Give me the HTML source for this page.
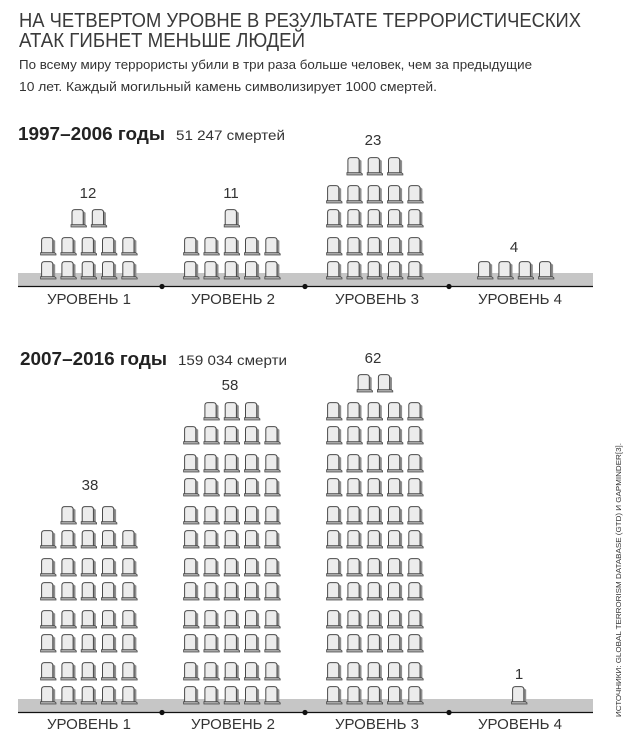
<!DOCTYPE html>
<html>
<head>
<meta charset="utf-8">
<style>
html,body{margin:0;padding:0;background:#fff;}
svg{display:block;}
text{font-family:"Liberation Sans","Noto Sans CJK SC",sans-serif;}
</style>
</head>
<body>
<svg width="632" height="743" viewBox="0 0 632 743" xmlns="http://www.w3.org/2000/svg">
<defs>
  <g id="t">
    <path d="M11.8,2 L14.2,3.8 L14.2,16 L11.8,16 Z" fill="#8e8e8e"/>
    <path d="M0.6,16 V3.4 Q0.6,0.6 3.4,0.6 H9 Q11.8,0.6 11.8,3.4 V16 Z" fill="#ececec" stroke="#4a4a4a" stroke-width="1"/>
    <path d="M-0.4,15.6 H13.4 L15,16.8 V18 H-0.4 Z" fill="#a8a8a8" stroke="#4a4a4a" stroke-width="0.8"/>
  </g>
  <g id="r5">
    <use href="#t" x="0" y="0"/>
    <use href="#t" x="20.3" y="0"/>
    <use href="#t" x="40.6" y="0"/>
    <use href="#t" x="60.9" y="0"/>
    <use href="#t" x="81.2" y="0"/>
  </g>
</defs>

<!-- Title -->
<text x="19" y="27" font-size="20" fill="#3a3a3a" textLength="562" lengthAdjust="spacingAndGlyphs">НА ЧЕТВЕРТОМ УРОВНЕ В РЕЗУЛЬТАТЕ ТЕРРОРИСТИЧЕСКИХ</text>
<text x="19" y="47" font-size="20" fill="#3a3a3a" textLength="286" lengthAdjust="spacingAndGlyphs">АТАК ГИБНЕТ МЕНЬШЕ ЛЮДЕЙ</text>
<text x="19" y="69" font-size="13" fill="#333" textLength="513" lengthAdjust="spacingAndGlyphs">По всему миру террористы убили в три раза больше человек, чем за предыдущие</text>
<text x="19" y="91" font-size="13" fill="#333" textLength="418" lengthAdjust="spacingAndGlyphs">10 лет. Каждый могильный камень символизирует 1000 смертей.</text>

<!-- Section 1 header -->
<text x="18" y="140" font-size="18" font-weight="bold" fill="#222" textLength="147" lengthAdjust="spacingAndGlyphs">1997–2006 годы</text>
<text x="176" y="140" font-size="14" fill="#333" textLength="109" lengthAdjust="spacingAndGlyphs">51 247 смертей</text>

<!-- Section 1 ground -->
<rect x="18" y="273" width="575" height="13" fill="#c6c6c6"/>
<line x1="18" y1="286.5" x2="593" y2="286.5" stroke="#111" stroke-width="1.2"/>
<circle cx="162" cy="286.5" r="2.6" fill="#111"/>
<circle cx="305" cy="286.5" r="2.6" fill="#111"/>
<circle cx="449" cy="286.5" r="2.6" fill="#111"/>

<!-- Section 1 tombstones -->
<use href="#r5" x="41" y="261"/>
<use href="#r5" x="41" y="237"/>
<use href="#t" x="71.4" y="209"/>
<use href="#t" x="91.7" y="209"/>

<use href="#r5" x="184" y="261"/>
<use href="#r5" x="184" y="237"/>
<use href="#t" x="224.6" y="209"/>

<use href="#r5" x="327" y="261"/>
<use href="#r5" x="327" y="237"/>
<use href="#r5" x="327" y="209"/>
<use href="#r5" x="327" y="185"/>
<use href="#t" x="347.3" y="157"/>
<use href="#t" x="367.6" y="157"/>
<use href="#t" x="387.9" y="157"/>

<use href="#t" x="478" y="261"/>
<use href="#t" x="498.3" y="261"/>
<use href="#t" x="518.6" y="261"/>
<use href="#t" x="538.9" y="261"/>

<!-- Section 1 numbers -->
<g font-size="15" fill="#333" text-anchor="middle">
  <text x="88" y="198">12</text>
  <text x="231" y="198">11</text>
  <text x="373" y="145">23</text>
  <text x="514" y="252">4</text>
</g>
<!-- Section 1 level labels -->
<g font-size="15" fill="#333" text-anchor="middle">
  <text x="89" y="304">УРОВЕНЬ 1</text>
  <text x="233" y="304">УРОВЕНЬ 2</text>
  <text x="377" y="304">УРОВЕНЬ 3</text>
  <text x="520" y="304">УРОВЕНЬ 4</text>
</g>

<!-- Section 2 header -->
<text x="20" y="365" font-size="18" font-weight="bold" fill="#222" textLength="147" lengthAdjust="spacingAndGlyphs">2007–2016 годы</text>
<text x="178" y="365" font-size="14" fill="#333" textLength="109" lengthAdjust="spacingAndGlyphs">159 034 смерти</text>

<!-- Section 2 ground -->
<rect x="18" y="699" width="575" height="13" fill="#c6c6c6"/>
<line x1="18" y1="712.5" x2="593" y2="712.5" stroke="#111" stroke-width="1.2"/>
<circle cx="162" cy="712.5" r="2.6" fill="#111"/>
<circle cx="305" cy="712.5" r="2.6" fill="#111"/>
<circle cx="449" cy="712.5" r="2.6" fill="#111"/>

<!-- Section 2 tombstones: level 1 (38) -->
<use href="#r5" x="41" y="686"/>
<use href="#r5" x="41" y="662"/>
<use href="#r5" x="41" y="634"/>
<use href="#r5" x="41" y="610"/>
<use href="#r5" x="41" y="582"/>
<use href="#r5" x="41" y="558"/>
<use href="#r5" x="41" y="530"/>
<use href="#t" x="61.3" y="506"/>
<use href="#t" x="81.6" y="506"/>
<use href="#t" x="101.9" y="506"/>

<!-- level 2 (58) -->
<use href="#r5" x="184" y="686"/>
<use href="#r5" x="184" y="662"/>
<use href="#r5" x="184" y="634"/>
<use href="#r5" x="184" y="610"/>
<use href="#r5" x="184" y="582"/>
<use href="#r5" x="184" y="558"/>
<use href="#r5" x="184" y="530"/>
<use href="#r5" x="184" y="506"/>
<use href="#r5" x="184" y="478"/>
<use href="#r5" x="184" y="454"/>
<use href="#r5" x="184" y="426"/>
<use href="#t" x="204.3" y="402"/>
<use href="#t" x="224.6" y="402"/>
<use href="#t" x="244.9" y="402"/>

<!-- level 3 (62) -->
<use href="#r5" x="327" y="686"/>
<use href="#r5" x="327" y="662"/>
<use href="#r5" x="327" y="634"/>
<use href="#r5" x="327" y="610"/>
<use href="#r5" x="327" y="582"/>
<use href="#r5" x="327" y="558"/>
<use href="#r5" x="327" y="530"/>
<use href="#r5" x="327" y="506"/>
<use href="#r5" x="327" y="478"/>
<use href="#r5" x="327" y="454"/>
<use href="#r5" x="327" y="426"/>
<use href="#r5" x="327" y="402"/>
<use href="#t" x="357.5" y="374"/>
<use href="#t" x="377.8" y="374"/>

<!-- level 4 (1) -->
<use href="#t" x="512" y="686"/>

<!-- Section 2 numbers -->
<g font-size="15" fill="#333" text-anchor="middle">
  <text x="90" y="490">38</text>
  <text x="230" y="390">58</text>
  <text x="373" y="363">62</text>
  <text x="519" y="679">1</text>
</g>
<!-- Section 2 level labels -->
<g font-size="15" fill="#333" text-anchor="middle">
  <text x="89" y="729">УРОВЕНЬ 1</text>
  <text x="233" y="729">УРОВЕНЬ 2</text>
  <text x="377" y="729">УРОВЕНЬ 3</text>
  <text x="520" y="729">УРОВЕНЬ 4</text>
</g>

<!-- Source (vertical) -->
<text transform="translate(621,717) rotate(-90)" font-size="7.5" fill="#333" textLength="274" lengthAdjust="spacingAndGlyphs">ИСТОЧНИКИ: GLOBAL TERRORISM DATABASE (GTD) И GAPMINDER[3].</text>
</svg>
</body>
</html>
